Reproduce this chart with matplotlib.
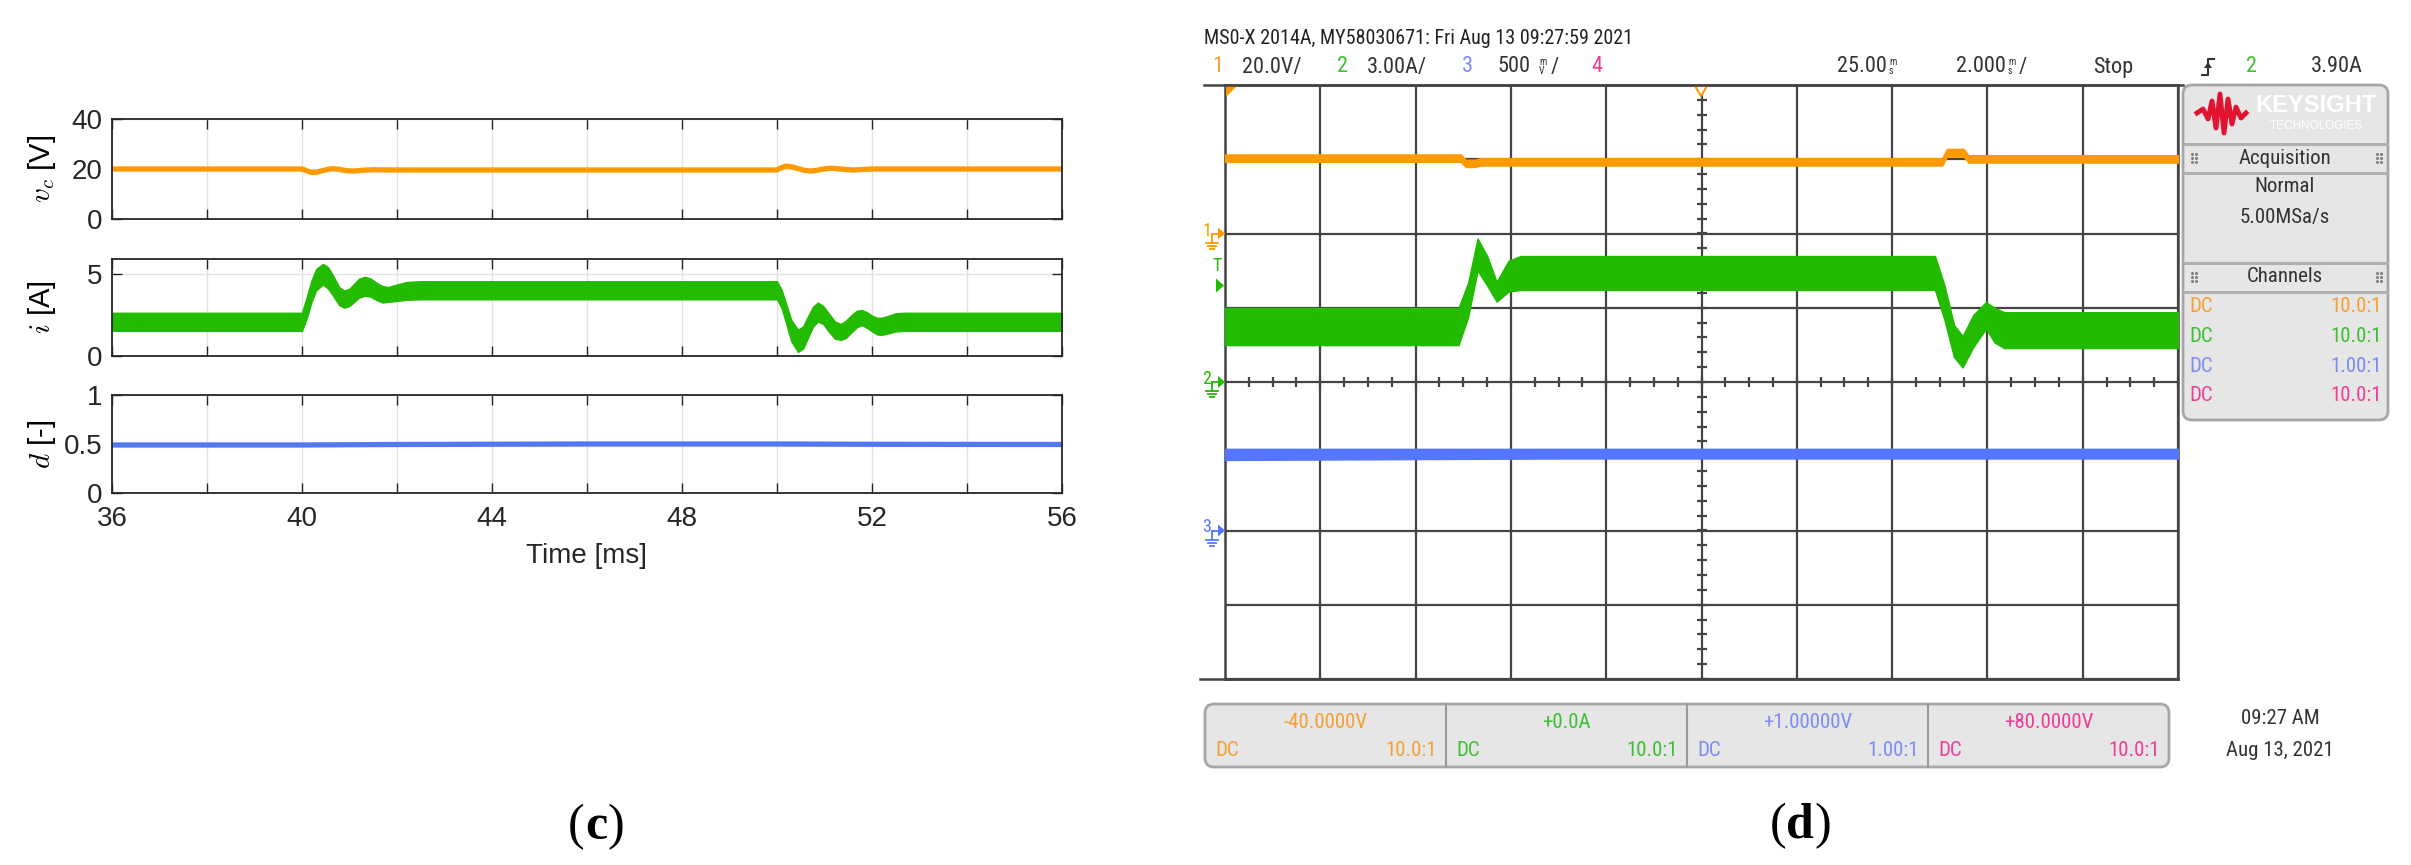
import numpy as np
import matplotlib
matplotlib.use("Agg")
import matplotlib.pyplot as plt
from matplotlib import font_manager
from matplotlib.patches import FancyBboxPatch, Polygon

W, H = 2411, 865

# ---- (c) simulation ----
t_vc = [36, 40.0, 40.1, 40.2, 40.3, 40.42, 40.55, 40.65, 40.77, 40.88, 41.0, 41.1, 41.2,
        41.3, 41.5, 41.7, 42.0, 50.0, 50.1, 50.19, 50.3, 50.45, 50.57, 50.7, 50.82,
        50.92, 51.05, 51.15, 51.27, 51.38, 51.6, 51.8, 52.0, 56]
vc = [20.0, 20.0, 19.3, 18.6, 18.7, 19.3, 19.9, 20.1, 19.9, 19.5, 19.25, 19.2, 19.35,
      19.55, 19.7, 19.65, 19.6, 19.6, 20.6, 21.2, 20.9, 20.1, 19.5, 19.2, 19.4,
      19.8, 20.2, 20.3, 20.1, 19.9, 19.6, 19.8, 20.0, 20.0]

t_i = [36, 40.0, 40.1, 40.2, 40.3, 40.44, 40.55, 40.67, 40.78, 40.89, 41.0, 41.1, 41.2,
       41.32, 41.45, 41.57, 41.7, 41.82, 42.0, 42.2, 42.5, 50.0, 50.1, 50.2, 50.3,
       50.44, 50.55, 50.65, 50.76, 50.86, 50.97, 51.1, 51.22, 51.34, 51.45, 51.57,
       51.68, 51.79, 51.9, 52.0, 52.1, 52.19, 52.35, 52.5, 52.7, 56]
i_hi = [2.63, 2.63, 3.6, 4.6, 5.3, 5.6, 5.4, 4.8, 4.2, 3.98, 4.1, 4.4, 4.7,
        4.82, 4.7, 4.45, 4.25, 4.2, 4.35, 4.5, 4.55, 4.55, 4.0, 3.1, 2.2,
        1.6, 1.8, 2.4, 3.0, 3.25, 3.05, 2.55, 2.1, 1.95, 2.15, 2.5,
        2.75, 2.8, 2.65, 2.45, 2.33, 2.32, 2.45, 2.6, 2.63, 2.63]
i_lo = [1.53, 1.53, 2.3, 3.3, 4.0, 4.35, 4.1, 3.6, 3.1, 2.94, 3.05, 3.3, 3.55,
        3.67, 3.6, 3.4, 3.25, 3.3, 3.35, 3.42, 3.45, 3.45, 2.9, 1.9, 0.9,
        0.25, 0.45, 1.1, 1.8, 2.1, 1.95, 1.45, 1.05, 0.98, 1.1, 1.45,
        1.75, 1.88, 1.7, 1.5, 1.32, 1.28, 1.38, 1.5, 1.53, 1.53]

t_d = [36, 40, 42, 46, 50, 52, 56]
duty = [0.49, 0.49, 0.495, 0.50, 0.50, 0.497, 0.495]

x_ticks = [36, 38, 40, 42, 44, 46, 48, 50, 52, 54, 56]
x_labels = ["36", "", "40", "", "44", "", "48", "", "52", "", "56"]

# ---- (d) scope capture (physical units) ----
t_ch1 = [15, 19.95, 20.05, 20.25, 20.35, 30.05, 30.15, 30.5, 30.6, 35]
ch1_hi = [21.3, 21.3, 19.9, 19.9, 20.3, 20.3, 22.8, 22.8, 21.1, 21.1]
ch1_lo = [19.3, 19.3, 17.9, 17.9, 18.3, 18.3, 20.7, 20.7, 19.1, 19.1]

t_ch2 = [15, 19.9, 20.1, 20.3, 20.5, 20.7, 20.95, 21.2, 29.9, 30.1, 30.3, 30.48,
         30.7, 30.97, 31.15, 31.35, 35]
ch2_hi = [2.99, 2.99, 4.0, 5.8, 5.1, 4.05, 4.9, 5.09, 5.09, 3.9, 2.3, 1.86,
          2.7, 3.23, 3.0, 2.82, 2.82]
ch2_lo = [1.49, 1.49, 2.6, 4.5, 3.9, 3.25, 3.65, 3.72, 3.72, 2.5, 1.0, 0.59,
          1.4, 2.15, 1.6, 1.37, 1.37]

t_ch3 = [15, 22, 35]
ch3_hi = [0.55, 0.55, 0.55]
ch3_lo = [0.475, 0.485, 0.485]

# channel settings: volts(amps)/div, offset
ch_scale = [20.0, 3.0, 0.5]
ch_offset = [-40.0, 0.0, 1.0]
trig_level = 3.90

orange, green, blue, pink = "#FF9900", "#22BB00", "#5577FF", "#FF3399"
t_orange, t_green, t_blue, t_pink = "#F5A030", "#3CBF32", "#7C8CF2", "#F03C96"


def pick(names):
    for n in names:
        try:
            font_manager.findfont(font_manager.FontProperties(family=n), fallback_to_default=False)
            return n
        except ValueError:
            pass
    return "DejaVu Sans"


narrow = pick(["Liberation Sans Narrow", "DejaVu Sans Condensed", "Roboto Condensed", "Liberation Sans"])
serif = pick(["Liberation Serif", "DejaVu Serif"])

plt.rcParams["font.family"] = "Liberation Sans"
plt.rcParams["mathtext.fontset"] = "cm"

fig = plt.figure(figsize=(W / 100, H / 100), dpi=100)


def sim_axes(top, bottom):
    ax = fig.add_axes([112 / W, 1 - bottom / H, 950 / W, (bottom - top) / H])
    ax.set_xlim(36, 56)
    ax.set_xticks(x_ticks)
    ax.set_xticklabels([])
    ax.tick_params(direction="in", top=True, right=True, length=7, width=1,
                   color="#262626", labelsize=20, labelcolor="#262626")
    ax.tick_params(axis="x", pad=9)
    ax.tick_params(axis="y", pad=7)
    ax.grid(True, color="#E2E2E2", lw=1)
    ax.set_axisbelow(True)
    for s in ax.spines.values():
        s.set_color("#262626")
        s.set_linewidth(1.3)
    return ax


ax1 = sim_axes(119, 219)
ax1.plot(t_vc, vc, color=orange, lw=3.8)
ax1.set_ylim(0, 40)
ax1.set_yticks([0, 20, 40])
ax1.set_ylabel("$v_c$ [V]", fontsize=21, va="center")
ax1.yaxis.set_label_coords(-0.074, 0.5)

ax2 = sim_axes(259, 356)
ax2.fill_between(t_i, i_lo, i_hi, color=green, lw=1)
ax2.set_ylim(0, 5.9)
ax2.set_yticks([0, 5])
ax2.set_ylabel("$i$ [A]", fontsize=21, va="center")
ax2.yaxis.set_label_coords(-0.074, 0.5)

ax3 = sim_axes(395, 493)
ax3.plot(t_d, duty, color="#5078F2", lw=3.8)
ax3.set_ylim(0, 1)
ax3.set_yticks([0, 0.5, 1])
ax3.set_yticklabels(["0", "0.5", "1"])
ax3.set_xticklabels(x_labels)
ax3.set_ylabel("$d$ [-]", fontsize=21, va="center")
ax3.yaxis.set_label_coords(-0.074, 0.5)
ax3.set_xlabel("Time [ms]", fontsize=20, color="#262626", va="center")
ax3.xaxis.set_label_coords(0.5, -0.64)

# ---- scope screen ----
top, bot = 85, 679
cy = (top + bot) / 2
div_px = (bot - top) / 8
axs = fig.add_axes([1225 / W, 1 - bot / H, 953 / W, (bot - top) / H])
axs.set_xlim(15, 35)
axs.set_ylim(-4, 4)
axs.set_xticks(np.arange(15, 36, 2))
axs.set_yticks(np.arange(-4, 5, 1))
axs.tick_params(length=0, labelleft=False, labelbottom=False)
axs.grid(True, color="#444444", lw=1.6)
axs.set_axisbelow(True)
for s in axs.spines.values():
    s.set_color("#444444")
    s.set_linewidth(1.8)

mx = np.arange(15, 35.01, 0.5)
axs.plot(mx, np.zeros_like(mx), ls="none", marker="|", ms=7, mew=1.6, color="#444444")
my = np.arange(-4, 4.01, 0.2)
axs.plot(np.full_like(my, 25), my, ls="none", marker="_", ms=7, mew=1.6, color="#444444")


def to_div(vals, k):
    return (np.asarray(vals) - ch_offset[k]) / ch_scale[k]


axs.fill_between(t_ch1, to_div(ch1_lo, 0), to_div(ch1_hi, 0), color=orange, lw=1, zorder=3)
axs.fill_between(t_ch2, to_div(ch2_lo, 1), to_div(ch2_hi, 1), color=green, lw=1, zorder=3)
axs.fill_between(t_ch3, to_div(ch3_lo, 2), to_div(ch3_hi, 2), color=blue, lw=1, zorder=3)

# ---- overlay in pixel coordinates ----
ov = fig.add_axes([0, 0, 1, 1])
ov.set_xlim(0, W)
ov.set_ylim(H, 0)
ov.axis("off")
ov.patch.set_alpha(0)

dark = "#333333"
ov.plot([1204, 2183], [top, top], color="#444444", lw=1.8)
ov.plot([1200, 2178], [bot, bot], color="#444444", lw=1.8)

ov.text(1204, 38, "MS0-X 2014A, MY58030671: Fri Aug 13 09:27:59 2021", family=narrow,
        fontsize=14.5, color="#222222", ha="left", va="center")


def stacked(x, y, a, b, color=dark):
    ov.text(x, y - 5, a, family=narrow, fontsize=7, color=color, ha="left", va="center")
    ov.text(x, y + 4, b, family=narrow, fontsize=7, color=color, ha="left", va="center")


ry = 67
row = [(1212, "1", t_orange), (1242, "20.0V/", dark), (1337, "2", t_green),
       (1367, "3.00A/", dark), (1462, "3", t_blue), (1497, "500", dark),
       (1551, "/", dark), (1591, "4", t_pink), (1837, "25.00", dark),
       (1956, "2.000", dark), (2019, "/", dark), (2093, "Stop", dark),
       (2246, "2", t_green), (2311, "3.90A", dark)]
for x, s, c in row:
    ov.text(x, ry, s, family=narrow, fontsize=16, color=c, ha="left", va="center")
stacked(1539, ry, "m", "V")
stacked(1889, ry, "m", "s")
stacked(2008, ry, "m", "s")
# trigger edge icon
ov.plot([2202, 2208, 2208, 2214], [75, 75, 59, 59], color=dark, lw=1.5)
ov.add_patch(Polygon([(2204, 68), (2212, 68), (2208, 62)], color=dark, lw=0))

# scope markers
ov.add_patch(Polygon([(1226, 86), (1237, 86), (1226, 97)], color=orange, lw=0))
ov.add_patch(Polygon([(1695, 86), (1707, 86), (1701, 96)], closed=True, fc="white", ec=orange, lw=1.5))


def ground(py, label, color):
    ov.text(1207, py - 3, label, family=narrow, fontsize=13, color=color, ha="center", va="center")
    ov.add_patch(Polygon([(1218, py - 6), (1225, py), (1218, py + 6)], color=color, lw=0))
    ov.plot([1212, 1218], [py, py], color=color, lw=1.3)
    ov.plot([1212, 1212], [py, py + 9], color=color, lw=1.3)
    ov.plot([1206, 1218], [py + 9, py + 9], color=color, lw=1.3)
    ov.plot([1208, 1216], [py + 12, py + 12], color=color, lw=1.3)
    ov.plot([1210, 1214], [py + 15, py + 15], color=color, lw=1.3)


for k, (lab, col) in enumerate([("1", orange), ("2", green), ("3", blue)]):
    ground(cy - to_div([0.0], k)[0] * div_px, lab, col)

ty = cy - trig_level / ch_scale[1] * div_px
ov.text(1217, ty - 19, "T", family=narrow, fontsize=13, color=green, ha="center", va="center")
ov.add_patch(Polygon([(1216, ty - 7), (1224, ty), (1216, ty + 7)], color=green, lw=0))

# side panel
panel_bg, panel_ec = "#E6E6E6", "#A6A6A6"
ov.add_patch(FancyBboxPatch((2183, 85), 205, 335, boxstyle="round,pad=0,rounding_size=9",
                            fc=panel_bg, ec=panel_ec, lw=2))
for yy in [144, 173, 263, 292]:
    ov.plot([2184, 2387], [yy, yy], color="#B0B0B0", lw=2.2)
# logo
logo_x = [2197, 2203, 2208, 2212, 2216, 2220, 2224, 2228, 2232, 2236, 2241, 2246]
logo_y = [113, 109, 119, 101, 128, 94, 133, 99, 124, 107, 118, 113]
ov.plot(logo_x, logo_y, color="#E3122F", lw=3.5, solid_joinstyle="round")
ov.text(2316, 106, "KEYSIGHT", family="Liberation Sans", fontweight="bold", fontsize=17,
        color="white", ha="center", va="center")
ov.text(2316, 126, "TECHNOLOGIES", family="Liberation Sans", fontsize=8.5,
        color="white", ha="center", va="center")
for hy, title in [(158, "Acquisition"), (277, "Channels")]:
    ov.text(2285, hy, title, family=narrow, fontsize=15, color=dark, ha="center", va="center")
    for gx in [2192, 2377]:
        ov.scatter([gx, gx + 4] * 3, [hy - 4] * 2 + [hy] * 2 + [hy + 4] * 2, s=1.5, color="#808080")
ov.text(2285, 187, "Normal", family=narrow, fontsize=15, color=dark, ha="center", va="center")
ov.text(2285, 217, "5.00MSa/s", family=narrow, fontsize=15, color=dark, ha="center", va="center")
probe = ["10.0:1", "10.0:1", "1.00:1", "10.0:1"]
for j, (c, p) in enumerate(zip([t_orange, t_green, t_blue, t_pink], probe)):
    yy = 307 + j * 29.5
    ov.text(2189, yy, "DC", family=narrow, fontsize=15, color=c, ha="left", va="center")
    ov.text(2382, yy, p, family=narrow, fontsize=15, color=c, ha="right", va="center")

# bottom info box
ov.add_patch(FancyBboxPatch((1205, 704), 964, 63, boxstyle="round,pad=0,rounding_size=9",
                            fc=panel_bg, ec=panel_ec, lw=2))
offsets = ["-40.0000V", "+0.0A", "+1.00000V", "+80.0000V"]
cell_w = 964 / 4
for j, (c, o, p) in enumerate(zip([t_orange, t_green, t_blue, t_pink], offsets, probe)):
    x0 = 1205 + j * cell_w
    if j > 0:
        ov.plot([x0, x0], [704, 767], color="#9A9A9A", lw=1.5)
    ov.text(x0 + cell_w / 2, 722, o, family=narrow, fontsize=15, color=c, ha="center", va="center")
    ov.text(x0 + 10, 750, "DC", family=narrow, fontsize=15, color=c, ha="left", va="center")
    ov.text(x0 + cell_w - 9, 750, p, family=narrow, fontsize=15, color=c, ha="right", va="center")
ov.text(2280, 719, "09:27 AM", family=narrow, fontsize=15, color=dark, ha="center", va="center")
ov.text(2280, 751, "Aug 13, 2021", family=narrow, fontsize=15, color=dark, ha="center", va="center")

# panel captions
renderer = fig.canvas.get_renderer()


def caption(cx, base, letter):
    mid = ov.text(cx, base, letter, family=serif, fontweight="bold", fontsize=36,
                  ha="center", va="baseline")
    bb = mid.get_window_extent(renderer=renderer)
    ov.text(bb.x0, base, "(", family=serif, fontsize=36, ha="right", va="baseline")
    ov.text(bb.x1, base, ")", family=serif, fontsize=36, ha="left", va="baseline")


caption(596, 839, "c")
caption(1800, 838, "d")

fig.savefig("out.png", dpi=100)
